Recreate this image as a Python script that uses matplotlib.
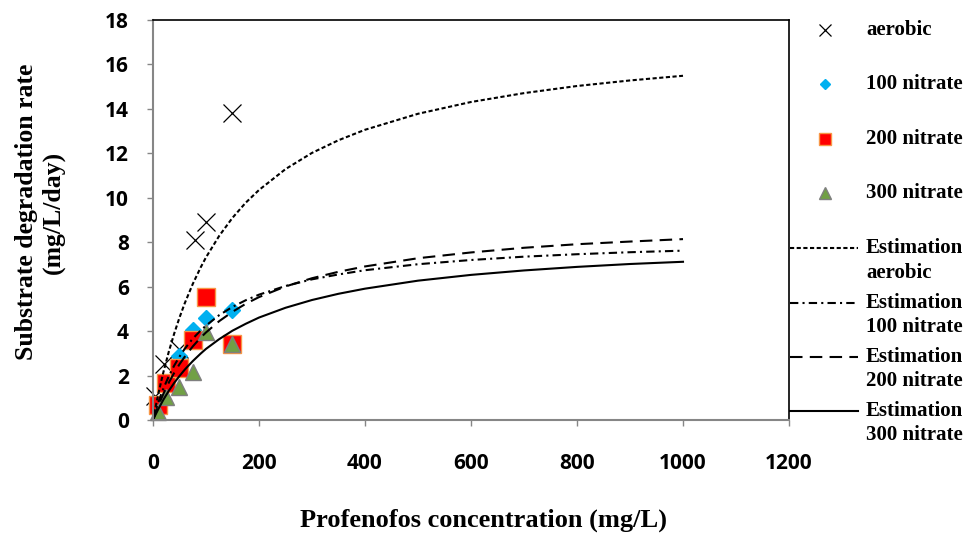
import matplotlib
matplotlib.use('Agg')
import matplotlib.pyplot as plt

# measured rates (mg/L/day) vs profenofos concentration (mg/L)
conc = [10, 25, 50, 75, 100, 150]
conc_aerobic = [3, 20, 50, 80, 100, 150]
rate_aerobic = [1.1, 2.5, 3.2, 8.1, 8.9, 13.8]
rate_100 = [0.7, 1.7, 2.9, 4.05, 4.6, 4.95]
rate_200 = [0.68, 1.65, 2.35, 3.6, 5.55, 3.4]
rate_300 = [0.37, 1.05, 1.5, 2.17, 3.98, 3.4]

# estimation curves
s_est = [0, 5, 10, 15, 20, 30, 40, 50, 60, 75, 90, 100, 125, 150, 175, 200,
         250, 300, 350, 400, 500, 600, 700, 800, 900, 1000]
est_aerobic = [0, 0.60, 1.17, 1.69, 2.19, 3.09, 3.89, 4.61, 5.26, 6.12, 6.87, 7.32,
               8.29, 9.10, 9.78, 10.35, 11.29, 12.02, 12.59, 13.06, 13.78, 14.31,
               14.71, 15.03, 15.28, 15.49]
est_100 = [0, 0.41, 0.79, 1.13, 1.44, 1.98, 2.45, 2.85, 3.21, 3.66, 4.03, 4.25,
           4.72, 5.09, 5.39, 5.64, 6.03, 6.33, 6.55, 6.74, 7.01, 7.20, 7.35, 7.46,
           7.55, 7.62]
est_200 = [0, 0.33, 0.64, 0.93, 1.20, 1.69, 2.12, 2.51, 2.85, 3.31, 3.71, 3.94,
           4.45, 4.87, 5.23, 5.53, 6.01, 6.38, 6.67, 6.91, 7.28, 7.54, 7.75, 7.91,
           8.03, 8.14]
est_300 = [0, 0.25, 0.49, 0.71, 0.93, 1.32, 1.67, 1.98, 2.27, 2.65, 2.99, 3.20,
           3.64, 4.02, 4.33, 4.61, 5.05, 5.40, 5.68, 5.91, 6.27, 6.53, 6.73, 6.89,
           7.02, 7.12]

W, H = 970, 535
fig = plt.figure(figsize=(W / 100, H / 100), dpi=100)
ax = fig.add_axes([153 / W, 1 - 420 / H, 636 / W, 400 / H])

ax.plot(conc_aerobic, rate_aerobic, 'x', color='black', ms=13, mew=0.9, clip_on=False)
ax.plot(conc, rate_100, 'D', color='#00B0F0', ms=7.8, mec='#00B0F0', clip_on=False)
ax.plot(conc, rate_200, 's', color='#FF0000', ms=12.5, mec='#F79646', mew=1, clip_on=False)
ax.plot(conc, rate_300, '^', color='#71A045', ms=12, mec='#7F7F7F', mew=1, clip_on=False)

ls_aer = (0, (2, 1.2))
ls_100 = (0, (4, 2, 1, 2))
ls_200 = (0, (6, 3.5))
ax.plot(s_est, est_aerobic, color='black', lw=1.5, ls=ls_aer)
ax.plot(s_est, est_100, color='black', lw=1.5, ls=ls_100)
ax.plot(s_est, est_200, color='black', lw=1.5, ls=ls_200)
ax.plot(s_est, est_300, color='black', lw=1.5)

ax.set_xlim(0, 1200)
ax.set_ylim(0, 18)
ax.set_xticks(range(0, 1201, 200))
ax.set_yticks(range(0, 19, 2))
for s in ['left', 'bottom']:
    ax.spines[s].set_color('#868686')
    ax.spines[s].set_linewidth(1.5)
for s in ['top', 'right']:
    ax.spines[s].set_color('black')
    ax.spines[s].set_linewidth(1.2)
ax.tick_params(direction='out', length=4.5, width=1, color='#868686')
ax.tick_params(axis='y', pad=13)
ax.tick_params(axis='x', pad=19)
for lab in ax.get_xticklabels() + ax.get_yticklabels():
    lab.set_fontfamily('Open Sans')
    lab.set_fontweight('bold')
    lab.set_fontsize(15)

# overlay in pixel coordinates for titles and legend
lax = fig.add_axes([0, 0, 1, 1])
lax.set_xlim(0, W)
lax.set_ylim(H, 0)
lax.axis('off')

serif = dict(family='Liberation Serif', weight='bold')
lax.text(40, 212, 'Substrate degradation rate\n(mg/L/day)', rotation=90,
         ha='center', va='center', multialignment='center', fontsize=18.5, **serif)
lax.text(484, 520, 'Profenofos concentration (mg/L)', ha='center', va='center',
         fontsize=19, **serif)

# legend
tx = 866
lax.plot([825], [29.5], 'x', color='black', ms=8, mew=0.9)
lax.plot([825], [83.5], 'D', color='#00B0F0', ms=5.2)
lax.plot([825], [138.5], 's', color='#FF0000', ms=8, mec='#F79646', mew=1)
lax.plot([825], [193], '^', color='#71A045', ms=8.5, mec='#7F7F7F', mew=1)
for y, t in zip([30, 84, 139, 193], ['aerobic', '100 nitrate', '200 nitrate', '300 nitrate']):
    lax.text(tx, y, t, ha='left', va='center', fontsize=15, **serif)

line_ys = [248, 303, 357, 411]
line_styles = [ls_aer, ls_100, ls_200, '-']
line_names = ['aerobic', '100 nitrate', '200 nitrate', '300 nitrate']
for y, ls, name in zip(line_ys, line_styles, line_names):
    lax.plot([790, 858], [y, y], color='black', lw=1.5, ls=ls)
    lax.text(tx, y, 'Estimation', ha='left', va='center', fontsize=15, **serif)
    lax.text(tx, y + 24.5, name, ha='left', va='center', fontsize=15, **serif)

fig.savefig('out.png', dpi=100)
